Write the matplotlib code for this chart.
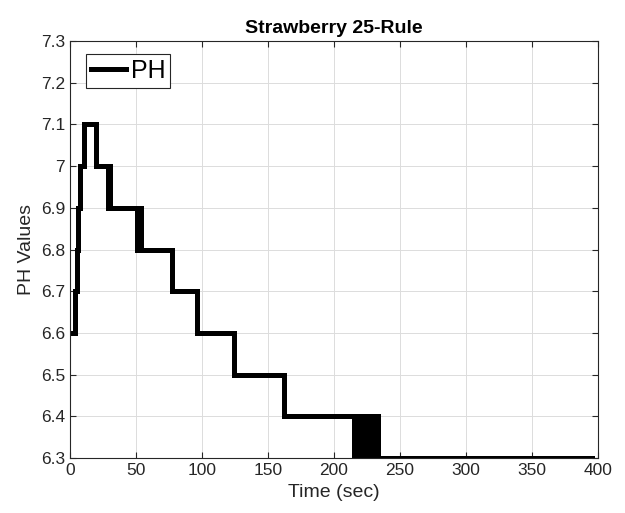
import matplotlib
matplotlib.use("Agg")
import matplotlib.pyplot as plt

# step change times (sec) and the pH level held from each time on
time_sec = [0, 4, 5, 6, 7.5, 10.5, 20, 29, 29.5, 30.5, 51, 51.5, 52.5, 53, 54,
            77, 96, 124, 162,
            215, 216, 217, 218, 219, 220, 221, 222, 223, 224, 225, 226, 227,
            228, 229, 230, 231.5, 232.5, 233.5, 235, 395]
ph_values = [6.6, 6.7, 6.8, 6.9, 7.0, 7.1, 7.0, 6.9, 7.0, 6.9, 6.8, 6.9, 6.8, 6.9, 6.8,
             6.7, 6.6, 6.5, 6.4,
             6.3, 6.4, 6.3, 6.4, 6.3, 6.4, 6.3, 6.4, 6.3, 6.4, 6.3, 6.4, 6.3,
             6.4, 6.3, 6.4, 6.3, 6.4, 6.3, 6.3, 6.3]

x_ticks = [0, 50, 100, 150, 200, 250, 300, 350, 400]
y_ticks = [6.3, 6.4, 6.5, 6.6, 6.7, 6.8, 6.9, 7.0, 7.1, 7.2, 7.3]
y_labels = ["6.3", "6.4", "6.5", "6.6", "6.7", "6.8", "6.9", "7", "7.1", "7.2", "7.3"]

plt.rcParams["font.family"] = ["Liberation Sans", "DejaVu Sans"]

fig = plt.figure(figsize=(6.25, 5.13), dpi=100)
ax = fig.add_axes([0.112, 0.107, 0.845, 0.813])

ax.plot(time_sec, ph_values, drawstyle="steps-post", color="black", linewidth=3.6,
        label="PH", solid_joinstyle="miter")

ax.set_xlim(0, 400)
ax.set_ylim(6.3, 7.3)
ax.set_xticks(x_ticks)
ax.set_yticks(y_ticks)
ax.set_yticklabels(y_labels)
ax.grid(True, color="#dcdcdc", linewidth=0.7)
ax.set_axisbelow(True)
ax.tick_params(direction="in", length=4, labelsize=12.5, colors="#262626",
               top=True, right=True)
for side in ax.spines.values():
    side.set_color("#262626")
    side.set_linewidth(0.8)

ax.set_xlabel("Time (sec)", fontsize=14, color="#262626")
ax.set_ylabel("PH Values", fontsize=14, color="#262626")
ax.set_title("Strawberry 25-Rule", fontsize=14, fontweight="bold", color="black")

leg = ax.legend(loc="upper left", fontsize=18, handlelength=1.4, handletextpad=0.2,
                borderpad=0.2, borderaxespad=0, fancybox=False, framealpha=1,
                bbox_to_anchor=(0.03, 0.97))
leg.get_frame().set_edgecolor("#262626")
leg.get_frame().set_linewidth(0.8)

fig.savefig("out.png", dpi=100)
